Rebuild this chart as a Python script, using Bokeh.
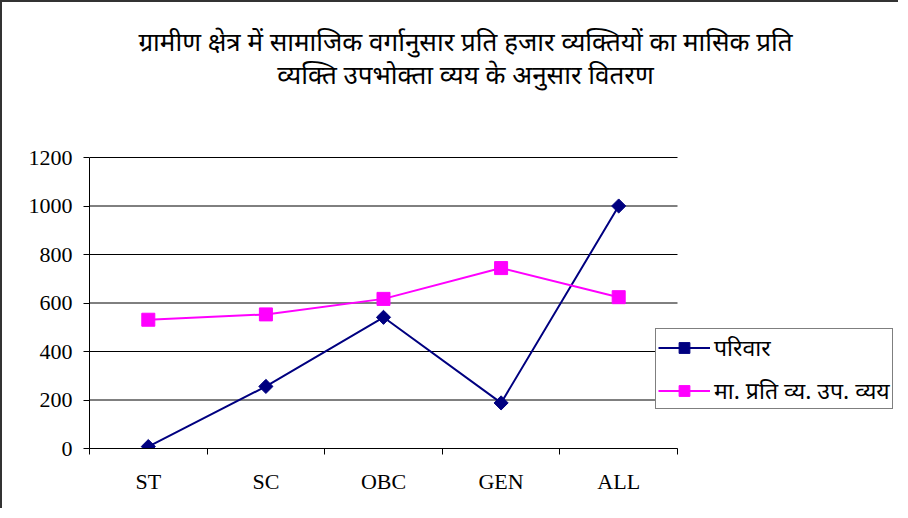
import math
from bokeh.plotting import figure
from bokeh.models import Range1d, FixedTicker, Legend, LegendItem, Label
from bokeh.embed import file_html
from bokeh.resources import INLINE

categories = ["ST", "SC", "OBC", "GEN", "ALL"]
parivar = [8, 256, 541, 188, 1000]
vyay = [531, 553, 617, 744, 624]
y_ticks = [0, 200, 400, 600, 800, 1000, 1200]
title_lines = ["ग्रामीण क्षेत्र में सामाजिक वर्गानुसार प्रति हजार व्यक्तियों का मासिक प्रति",
               "व्यक्ति उपभोक्ता व्यय के अनुसार वितरण"]
series_names = ["परिवार", "मा. प्रति व्य. उप. व्यय"]

# layout (picture pixels)
W, H, BORDER = 898, 508, 2
FRAME_L, AX_R, FRAME_R = 89, 677, W + BORDER
Y_ZERO, Y_TOP_TICK, FRAME_T = 448, 157, BORDER
n = len(categories)
y_max = y_ticks[-1]
x_end = n * (FRAME_R - FRAME_L) / (AX_R - FRAME_L)
y_end = y_max * (Y_ZERO - FRAME_T) / (Y_ZERO - Y_TOP_TICK)

def px_to_x(px):
    return n * (px - FRAME_L) / (AX_R - FRAME_L)

def px_to_y(py):
    return y_max * (Y_ZERO - py) / (Y_ZERO - Y_TOP_TICK)

x = [i + 0.5 for i in range(n)]

p = figure(width=W, height=H, output_backend="svg", toolbar_location=None,
           x_range=Range1d(0, x_end), y_range=Range1d(0, y_end),
           min_border_left=FRAME_L - BORDER, min_border_right=0, min_border_top=0,
           min_border_bottom=H + BORDER - Y_ZERO)
p.styles = {"border-left": "2px solid #333333", "border-top": "2px solid #333333"}
p.outline_line_color = None
p.background_fill_color = "white"
p.border_fill_color = "white"

# axes
p.xaxis.ticker = FixedTicker(ticks=x, minor_ticks=list(range(n + 1)))
p.xaxis.bounds = (0, n)
p.xaxis.major_label_overrides = {xi: c for xi, c in zip(x, categories)}
p.xaxis.major_tick_line_color = None
p.xaxis.major_tick_out = 0
p.xaxis.minor_tick_line_color = "black"
p.xaxis.minor_tick_out = 6
p.xaxis.minor_tick_in = 0
p.xaxis.major_label_standoff = 14
p.yaxis.ticker = FixedTicker(ticks=y_ticks)
p.yaxis.bounds = (0, y_max)
p.yaxis.major_tick_out = 6
p.yaxis.major_tick_in = 0
p.yaxis.major_tick_line_color = "black"
p.yaxis.minor_tick_line_color = None
p.yaxis.major_label_standoff = 11
for ax in (p.xaxis, p.yaxis):
    ax.axis_line_color = "black"
    ax.major_label_text_font = "Liberation Serif"
    ax.major_label_text_font_size = "22px"
    ax.major_label_text_color = "black"

p.xgrid.grid_line_color = None
p.ygrid.grid_line_color = None
# horizontal gridlines only across the category area
p.segment(x0=[0] * len(y_ticks), x1=[n] * len(y_ticks), y0=y_ticks, y1=y_ticks,
          line_color="black", line_width=1, level="underlay")

r1 = p.line(x, parivar, line_color="#000080", line_width=2)
m1 = p.scatter(x, parivar, marker="square", angle=math.pi / 4, size=10,
               fill_color="#000080", line_color="#000080")
r2 = p.line(x, vyay, line_color="#FF00FF", line_width=2)
m2 = p.scatter(x, vyay, marker="square", size=13, fill_color="#FF00FF", line_color="#FF00FF")

legend = Legend(items=[LegendItem(label=series_names[0], renderers=[r1, m1]),
                       LegendItem(label=series_names[1], renderers=[r2, m2])],
                location=(655 - FRAME_L, Y_ZERO - 409))
legend.border_line_color = "black"
legend.border_line_width = 1
legend.background_fill_color = "white"
legend.background_fill_alpha = 1
legend.label_text_font = "Noto Sans"
legend.label_text_font_size = "23px"
legend.label_text_color = "black"
legend.glyph_width = 52
legend.glyph_height = 27
legend.spacing = 11
legend.padding = 2
legend.margin = 0
legend.label_standoff = 4
p.add_layout(legend, "center")

for t, py in zip(title_lines, [40, 73]):
    p.add_layout(Label(x=px_to_x(465), y=px_to_y(py), text=t,
                       text_align="center", text_baseline="middle", text_font="Noto Sans",
                       text_font_size="26px", text_color="black"))

open("out.html", "w").write(file_html(p, INLINE))
